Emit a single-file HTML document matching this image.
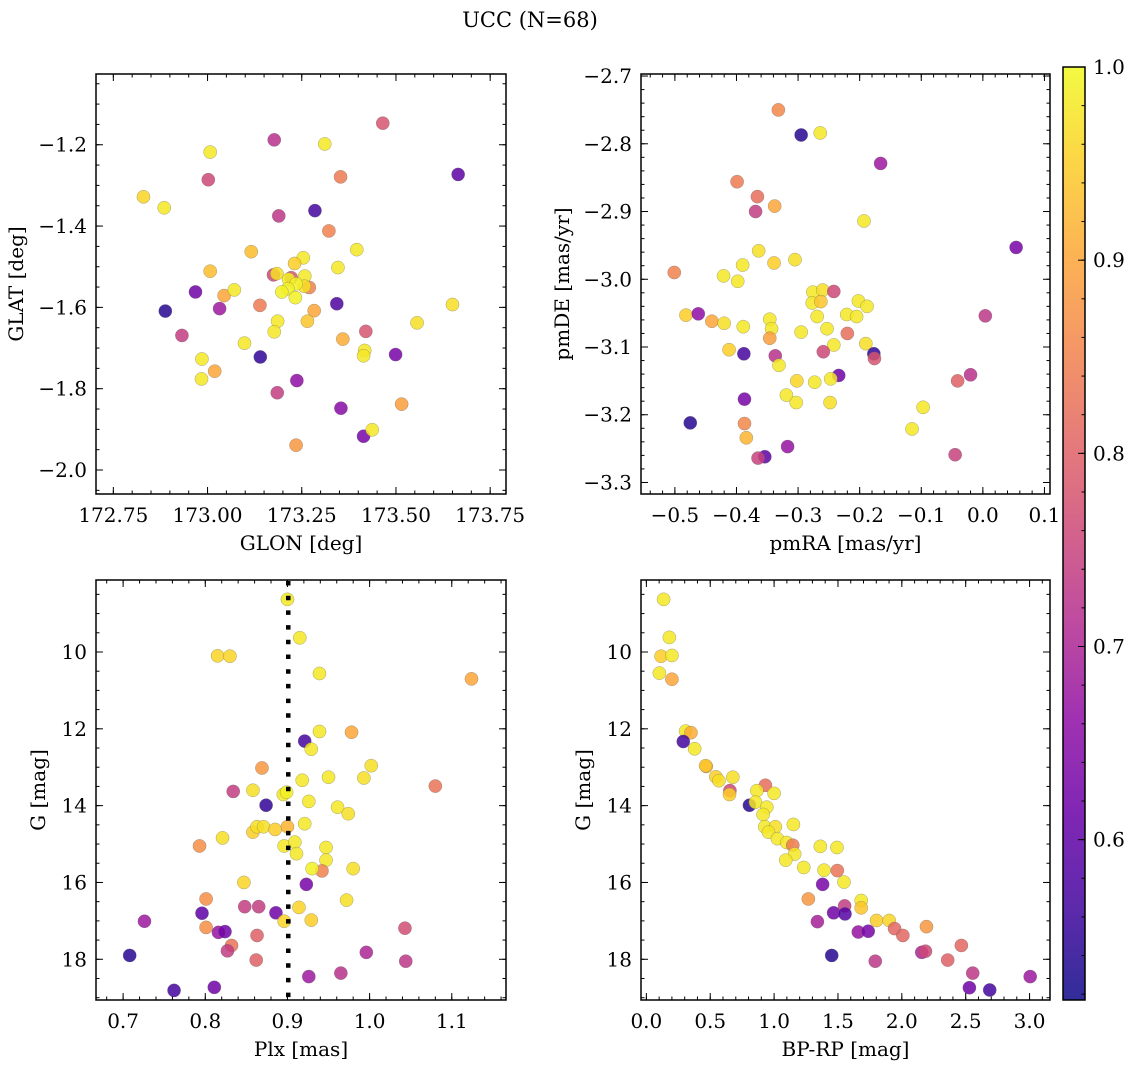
<!DOCTYPE html>
<html><head><meta charset="utf-8"><style>
html,body{margin:0;padding:0;background:#fff;}
svg{display:block;font-family:"DejaVu Serif","Liberation Serif",serif;}
</style></head><body>
<svg id="fig" width="1136" height="1067" viewBox="0 0 1136 1067" xmlns="http://www.w3.org/2000/svg">
<text x="530" y="27" font-size="21" text-anchor="middle">UCC (N=68)</text>
<defs><linearGradient id="cbgrad" x1="0" y1="1" x2="0" y2="0"></linearGradient></defs>
</svg>
<script>
// ---- data: panel 1 (GLON / GLAT) ----
const glon=[173.465,173.177,173.311,173.007,173.665,173.002,173.353,172.830,172.885,173.189,173.285,173.322,173.396,173.116,173.254,173.231,173.346,173.007,173.175,173.184,173.222,173.215,173.258,173.270,173.257,173.235,173.213,173.197,173.233,172.968,173.044,173.071,172.888,173.032,173.139,173.343,173.650,173.283,173.186,173.265,173.556,172.932,173.177,173.420,173.359,173.098,173.417,173.414,173.499,172.985,173.140,173.019,172.984,173.237,173.185,173.354,173.515,173.414,173.437,173.235];
const glat=[-1.147,-1.188,-1.198,-1.218,-1.273,-1.286,-1.279,-1.328,-1.355,-1.375,-1.362,-1.412,-1.458,-1.463,-1.478,-1.492,-1.502,-1.511,-1.520,-1.517,-1.527,-1.531,-1.523,-1.551,-1.548,-1.542,-1.554,-1.562,-1.576,-1.562,-1.571,-1.557,-1.609,-1.603,-1.595,-1.591,-1.593,-1.608,-1.634,-1.634,-1.638,-1.669,-1.660,-1.659,-1.678,-1.688,-1.706,-1.719,-1.716,-1.727,-1.722,-1.757,-1.776,-1.780,-1.810,-1.848,-1.838,-1.917,-1.901,-1.939];
const prob1=[0.78,0.72,0.98,0.98,0.60,0.76,0.84,0.96,0.98,0.73,0.57,0.85,0.98,0.93,0.98,0.95,0.98,0.93,0.76,0.97,0.78,0.99,0.98,0.85,0.97,0.99,0.99,0.99,0.99,0.62,0.90,0.98,0.54,0.68,0.84,0.58,0.97,0.90,0.98,0.94,0.97,0.74,0.98,0.78,0.91,0.98,0.98,0.98,0.63,0.98,0.55,0.90,0.98,0.66,0.74,0.65,0.89,0.63,0.98,0.88];
// ---- data: panel 2 (pmRA / pmDE) ----
const pmra=[-0.332,-0.295,-0.264,-0.166,-0.399,-0.366,-0.338,-0.369,-0.193,0.054,-0.364,-0.390,-0.339,-0.305,-0.501,-0.421,-0.398,-0.276,-0.260,-0.242,-0.277,-0.263,-0.202,-0.188,-0.269,-0.221,-0.205,0.004,-0.482,-0.462,-0.440,-0.420,-0.389,-0.346,-0.343,-0.346,-0.295,-0.253,-0.220,-0.242,-0.190,-0.412,-0.388,-0.337,-0.259,-0.177,-0.176,-0.331,-0.234,-0.247,-0.302,-0.273,-0.020,-0.041,-0.319,-0.303,-0.248,-0.387,-0.097,-0.475,-0.387,-0.115,-0.384,-0.317,-0.354,-0.365,-0.045];
const pmde=[-2.750,-2.787,-2.784,-2.829,-2.856,-2.878,-2.892,-2.900,-2.914,-2.953,-2.958,-2.979,-2.976,-2.971,-2.990,-2.995,-3.003,-3.019,-3.016,-3.018,-3.035,-3.033,-3.032,-3.040,-3.055,-3.052,-3.055,-3.054,-3.053,-3.051,-3.062,-3.065,-3.070,-3.059,-3.073,-3.087,-3.078,-3.073,-3.080,-3.097,-3.095,-3.104,-3.110,-3.113,-3.107,-3.110,-3.117,-3.127,-3.142,-3.147,-3.150,-3.152,-3.141,-3.150,-3.171,-3.182,-3.182,-3.177,-3.189,-3.212,-3.213,-3.221,-3.234,-3.247,-3.262,-3.264,-3.259];
const prob2=[0.86,0.54,0.98,0.68,0.84,0.82,0.90,0.74,0.98,0.63,0.97,0.98,0.95,0.97,0.85,0.98,0.98,0.98,0.97,0.76,0.98,0.94,0.98,0.98,0.98,0.98,0.98,0.73,0.95,0.66,0.90,0.97,0.98,0.98,0.98,0.89,0.98,0.98,0.82,0.98,0.97,0.95,0.57,0.72,0.76,0.55,0.78,0.98,0.62,0.98,0.96,0.98,0.72,0.80,0.98,0.98,0.97,0.63,0.98,0.54,0.86,0.98,0.92,0.67,0.60,0.75,0.75];
// ---- data: panel 3 (Plx / G) ----
const plx=[0.900,0.915,0.815,0.830,0.939,1.124,0.939,0.978,0.921,0.929,1.002,0.869,0.918,0.950,0.993,1.080,0.834,0.858,0.895,0.899,0.926,0.874,0.961,0.974,0.921,0.858,0.863,0.871,0.885,0.900,0.821,0.793,0.896,0.909,0.911,0.947,0.947,0.942,0.930,0.980,0.847,0.923,0.801,0.972,0.848,0.865,0.914,0.796,0.886,0.896,0.929,0.726,0.801,0.816,0.824,0.863,1.043,0.832,0.827,0.708,0.862,0.996,1.044,0.926,0.965,0.762,0.811];
const gmag3=[8.63,9.63,10.10,10.11,10.56,10.70,12.07,12.09,12.32,12.53,12.96,13.02,13.34,13.26,13.28,13.49,13.63,13.60,13.71,13.65,13.89,13.99,14.04,14.21,14.47,14.69,14.55,14.55,14.62,14.55,14.84,15.05,15.05,14.95,15.25,15.09,15.42,15.70,15.64,15.64,16.00,16.05,16.43,16.46,16.63,16.63,16.65,16.80,16.79,17.01,16.98,17.01,17.17,17.30,17.28,17.38,17.19,17.64,17.78,17.90,18.02,17.82,18.05,18.45,18.36,18.81,18.73];
const prob3=[0.98,0.98,0.96,0.96,0.98,0.90,0.98,0.90,0.57,0.98,0.97,0.88,0.98,0.98,0.97,0.83,0.74,0.97,0.98,0.99,0.98,0.55,0.98,0.97,0.98,0.95,0.97,0.97,0.95,0.92,0.97,0.87,0.98,0.98,0.98,0.98,0.98,0.85,0.99,0.97,0.96,0.63,0.87,0.97,0.74,0.74,0.96,0.60,0.62,0.96,0.95,0.68,0.87,0.67,0.62,0.80,0.77,0.83,0.74,0.54,0.80,0.70,0.73,0.68,0.72,0.57,0.62];
const plxMedian=0.901;
// ---- data: panel 4 (BP-RP / G) ----
const bprp=[0.135,0.180,0.115,0.200,0.102,0.200,0.307,0.349,0.289,0.378,0.469,0.464,0.544,0.568,0.677,0.654,0.651,0.932,0.865,1.000,0.807,0.854,0.943,0.914,0.927,1.010,0.956,1.026,1.151,1.099,1.146,1.161,1.091,1.362,1.492,1.232,1.391,1.495,1.547,1.380,1.268,1.682,1.682,1.552,1.466,1.555,1.339,1.802,1.901,1.943,2.008,2.193,1.659,1.737,2.156,2.185,2.466,2.359,1.451,1.792,2.555,3.005,2.529,2.688];
const gmag4=[8.63,9.62,10.11,10.09,10.55,10.71,12.06,12.10,12.33,12.52,12.98,12.96,13.25,13.35,13.26,13.61,13.71,13.47,13.61,13.68,13.99,13.91,14.04,14.23,14.55,14.55,14.69,14.86,14.49,14.96,15.03,15.26,15.42,15.06,15.09,15.61,15.68,15.69,15.99,16.05,16.43,16.47,16.66,16.61,16.79,16.82,17.02,16.99,16.99,17.20,17.38,17.15,17.29,17.27,17.82,17.79,17.64,18.02,17.90,18.05,18.36,18.45,18.74,18.80];
const prob4=[0.98,0.98,0.95,0.98,0.98,0.90,0.98,0.91,0.57,0.98,0.92,0.94,0.95,0.97,0.97,0.76,0.95,0.82,0.98,0.98,0.54,0.98,0.98,0.98,0.98,0.97,0.98,0.98,0.98,0.98,0.84,0.98,0.98,0.98,0.98,0.98,0.98,0.83,0.98,0.63,0.88,0.98,0.94,0.74,0.62,0.59,0.69,0.95,0.96,0.81,0.81,0.88,0.67,0.63,0.70,0.76,0.81,0.80,0.54,0.73,0.73,0.68,0.62,0.57];
// ---- tick labels ----
const p1xTicks=[172.75,173.00,173.25,173.50,173.75];
const p1yTicks=[-1.2,-1.4,-1.6,-1.8,-2.0];
const p2xTicks=[-0.5,-0.4,-0.3,-0.2,-0.1,0.0,0.1];
const p2yTicks=[-2.7,-2.8,-2.9,-3.0,-3.1,-3.2,-3.3];
const p3xTicks=[0.7,0.8,0.9,1.0,1.1];
const gTicks=[10,12,14,16,18];
const p4xTicks=[0.0,0.5,1.0,1.5,2.0,2.5,3.0];
const cbTicks=[0.6,0.7,0.8,0.9,1.0];

const FS=20;
const NS="http://www.w3.org/2000/svg";
const svg=document.getElementById('fig');
const VMIN=0.517,VMAX=1.0;
const plasma=["#0d0887","#41049d","#6a00a8","#8f0da4","#b12a90","#cc4778","#e16462","#f2844b","#fca636","#fcce25","#f0f921"];
function hex(h){return [parseInt(h.substr(1,2),16),parseInt(h.substr(3,2),16),parseInt(h.substr(5,2),16)];}
function cmap(t){t=Math.max(0,Math.min(1,t));const f=t*10,i=Math.min(9,Math.floor(f)),u=f-i;const a=hex(plasma[i]),b=hex(plasma[i+1]);
return 'rgb('+a.map((v,k)=>Math.round(v+(b[k]-v)*u)).join(',')+')';}
function colorOf(p){return cmap((p-VMIN)/(VMAX-VMIN));}
function mk(tag,attrs,parent){const e=document.createElementNS(NS,tag);for(const k in attrs)e.setAttribute(k,attrs[k]);(parent||svg).appendChild(e);return e;}
function fmt(v,d){const s=Math.abs(v).toFixed(d);return (v<-1e-9?'\u2212':'')+s;}

function panel(o){
  const g=mk('g',{});
  
  
  const X=v=>o.L+(v-o.x0)/(o.x1-o.x0)*(o.R-o.L);
  const Y=v=>o.T+(v-o.y0)/(o.y1-o.y0)*(o.B-o.T);
  const pg=mk('g',{},g);
  
  
  for(let i=0;i<o.xs.length;i++){
    const c=mk('circle',{cx:X(o.xs[i]),cy:Y(o.ys[i]),r:6.6,fill:colorOf(o.cs[i]),'fill-opacity':0.85,stroke:'#666','stroke-width':0.4,'stroke-opacity':0.7},pg);
    
    
  }
  if(o.vline!==undefined){
    const l=mk('line',{x1:X(o.vline),x2:X(o.vline),y1:o.T+1,y2:o.B,stroke:'#000','stroke-width':4.5,'stroke-dasharray':'4.5 10.2'},g);
    
    
  }
  const tg=mk('g',{stroke:'#000','stroke-width':1},g);
  function ticksX(step,len){const s=Math.ceil(Math.min(o.x0,o.x1)/step-1e-6);for(let k=s;k*step<=Math.max(o.x0,o.x1)+1e-9;k++){const x=X(k*step);mk('line',{x1:x,x2:x,y1:o.B,y2:o.B-len},tg);mk('line',{x1:x,x2:x,y1:o.T,y2:o.T+len},tg);}}
  function ticksY(step,len){const lo=Math.min(o.y0,o.y1),hi=Math.max(o.y0,o.y1);const s=Math.ceil(lo/step-1e-6);for(let k=s;k*step<=hi+1e-9;k++){const y=Y(k*step);mk('line',{x1:o.L,x2:o.L+len,y1:y,y2:y},tg);mk('line',{x1:o.R,x2:o.R-len,y1:y,y2:y},tg);}}
  ticksX(o.xmin,3.5);ticksY(o.ymin,3.5);
  o.xt.forEach(v=>{const x=X(v);mk('line',{x1:x,x2:x,y1:o.B,y2:o.B-7},tg);mk('line',{x1:x,x2:x,y1:o.T,y2:o.T+7},tg);
    const t=mk('text',{x:x,y:o.B+28,'font-size':FS,'text-anchor':'middle'},g);t.textContent=fmt(v,o.xd);
    
    });
  o.yt.forEach(v=>{const y=Y(v);mk('line',{x1:o.L,x2:o.L+7,y1:y,y2:y},tg);mk('line',{x1:o.R,x2:o.R-7,y1:y,y2:y},tg);
    const t=mk('text',{x:o.L-9,y:y+7,'font-size':FS,'text-anchor':'end'},g);t.textContent=fmt(v,o.yd);
    
    });
  const fr=mk('rect',{x:o.L,y:o.T,width:o.R-o.L,height:o.B-o.T,fill:'none',stroke:'#000','stroke-width':1.5},g);
  
  
  const xl=mk('text',{x:(o.L+o.R)/2,y:o.B+56,'font-size':FS,'text-anchor':'middle'},g);xl.textContent=o.xlabel;
  
  
  const yx=o.ylx,yy=(o.T+o.B)/2;
  const yl=mk('text',{x:yx,y:yy,'font-size':FS,'text-anchor':'middle',transform:'rotate(-90 '+yx+' '+yy+')'},g);yl.textContent=o.ylabel;
  
  
}

panel({name:'glon-glat-panel',L:96,R:506,T:74,B:494,x0:172.704,x1:173.792,y0:-1.026,y1:-2.059,xs:glon,ys:glat,cs:prob1,xt:p1xTicks,yt:p1yTicks,xd:2,yd:1,xmin:0.05,ymin:0.05,xlabel:'GLON [deg]',ylabel:'GLAT [deg]',ylx:23});
panel({name:'pm-panel',L:641,R:1050,T:74,B:494,x0:-0.555,x1:0.109,y0:-2.697,y1:-3.317,xs:pmra,ys:pmde,cs:prob2,xt:p2xTicks,yt:p2yTicks,xd:1,yd:1,xmin:0.02,ymin:0.02,xlabel:'pmRA [mas/yr]',ylabel:'pmDE [mas/yr]',ylx:569});
panel({name:'plx-g-panel',L:96,R:506,T:580,B:1000,x0:0.667,x1:1.166,y0:8.126,y1:19.06,xs:plx,ys:gmag3,cs:prob3,xt:p3xTicks,yt:gTicks,xd:1,yd:0,xmin:0.02,ymin:0.5,xlabel:'Plx [mas]',ylabel:'G [mag]',ylx:45,vline:plxMedian});
panel({name:'cmd-panel',L:641,R:1050,T:580,B:1000,x0:-0.042,x1:3.16,y0:8.126,y1:19.06,xs:bprp,ys:gmag4,cs:prob4,xt:p4xTicks,yt:gTicks,xd:1,yd:0,xmin:0.1,ymin:0.5,xlabel:'BP-RP [mag]',ylabel:'G [mag]',ylx:590});

const grad=document.getElementById('cbgrad');
for(let i=0;i<=40;i++){mk('stop',{offset:i/40,'stop-color':cmap(i/40)},grad);}
const CT=67,CB=1000,CL=1063,CR=1085;
const cg=mk('g',{});


const CY=v=>CB-(v-VMIN)/(VMAX-VMIN)*(CB-CT);
mk('rect',{x:CL,y:CT,width:CR-CL,height:CB-CT,fill:'url(#cbgrad)','fill-opacity':0.85},cg);
for(let k=26;k*0.02<=VMAX+1e-9;k++){const y=CY(k*0.02);mk('line',{x1:CR,x2:CR-3.5,y1:y,y2:y,stroke:'#000','stroke-width':1},cg);}
cbTicks.forEach(v=>{const y=CY(v);mk('line',{x1:CR,x2:CR-7,y1:y,y2:y,stroke:'#000','stroke-width':1},cg);
  const t=mk('text',{x:CR+8,y:y+7,'font-size':FS},cg);t.textContent=v.toFixed(1);
  
  });
mk('rect',{x:CL,y:CT,width:CR-CL,height:CB-CT,fill:'none',stroke:'#000','stroke-width':1.5},cg);
</script>
</body></html>
